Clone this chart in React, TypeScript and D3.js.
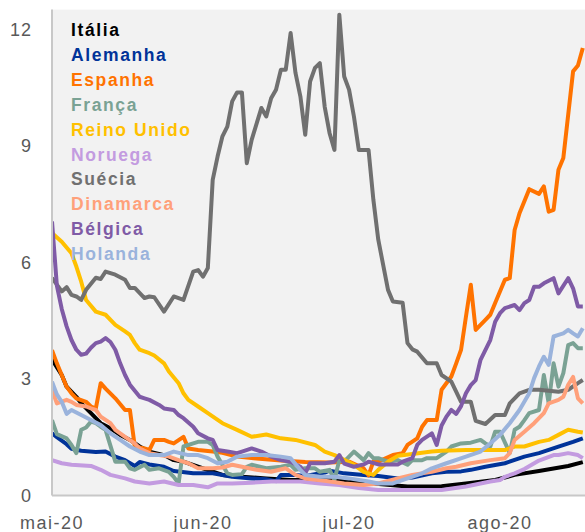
import React from "react";
import * as d3 from "d3";

// Day offsets counted from 1 May 2020; values are the plotted indicator.
type Pt = [number, number];

const italia: Pt[] = [[0,3.5],[2,3.1],[3,2.8],[5,2.54],[6,2.37],[8,2.12],[10,1.86],[12,1.73],[14,1.56],[16,1.43],[18,1.26],[20,1.13],[23,1.04],[25,0.91],[27,0.87],[30,0.74],[35,0.53],[39,0.48],[44,0.44],[49,0.4],[56,0.4],[61,0.36],[66,0.31],[73,0.23],[80,0.24],[85,0.31],[91,0.4],[95,0.53],[100,0.63],[106,0.76],[109,0.86]];
const alemanha: Pt[] = [[0,1.6],[1,1.5],[3,1.32],[4,1.2],[6,1.15],[9,1.12],[11,1.13],[13,1.0],[15,0.91],[17,0.76],[18,0.86],[20,0.8],[23,0.74],[25,0.63],[29,0.57],[33,0.57],[37,0.48],[41,0.44],[44,0.42],[46,0.37],[47,0.53],[50,0.53],[52,0.5],[56,0.59],[57,0.64],[60,0.57],[64,0.53],[67,0.5],[71,0.44],[74,0.46],[78,0.57],[81,0.61],[84,0.62],[86,0.66],[89,0.74],[93,0.83],[97,1.0],[100,1.09],[104,1.26],[107,1.38],[109,1.47]];
const espanha: Pt[] = [[0,3.74],[1,3.4],[2,3.1],[3,2.8],[4,2.63],[5,2.5],[7,2.41],[8,2.29],[9,2.24],[10,2.89],[11,2.75],[13,2.5],[15,2.2],[16,2.2],[17,1.26],[19,1.21],[20,1.17],[21,1.43],[23,1.43],[24,1.38],[25,1.34],[27,1.51],[28,1.21],[30,1.17],[33,1.13],[35,1.1],[38,1.0],[42,0.95],[47,0.9],[52,0.86],[57,0.85],[61,0.87],[64,0.7],[65,0.52],[66,0.88],[67,0.87],[70,1.04],[72,1.09],[73,1.3],[75,1.47],[76,1.77],[77,1.94],[79,1.94],[80,2.72],[82,3.06],[83,3.4],[84,3.75],[85,4.6],[86,5.42],[87,4.26],[89,4.52],[90,4.65],[91,4.95],[93,5.55],[94,5.59],[95,6.83],[96,7.26],[98,7.88],[100,7.76],[101,7.95],[102,7.3],[103,7.35],[104,8.38],[105,8.68],[107,10.91],[108,11.06],[109,11.51]];
const franca: Pt[] = [[0,1.94],[1,1.58],[3,1.47],[4,1.3],[5,1.09],[6,1.69],[7,1.75],[8,1.9],[9,1.86],[10,1.77],[11,1.69],[13,0.87],[15,0.87],[16,0.7],[17,0.66],[19,0.79],[20,0.66],[22,0.7],[24,0.61],[25,0.48],[26,0.31],[27,1.26],[29,1.34],[30,1.38],[32,1.38],[33,1.3],[34,1.0],[36,0.57],[37,0.53],[39,0.55],[40,0.74],[41,0.79],[44,0.7],[47,0.74],[49,0.79],[50,0.66],[52,0.7],[54,0.7],[55,0.61],[57,0.66],[58,0.4],[59,0.91],[60,0.87],[62,1.13],[64,0.91],[65,1.09],[66,0.96],[67,0.96],[69,0.87],[71,0.91],[73,0.79],[74,0.91],[76,0.91],[77,0.96],[79,0.96],[81,1.13],[82,1.26],[84,1.34],[86,1.36],[88,1.43],[89,1.34],[90,1.26],[91,1.64],[92,1.64],[94,1.09],[95,1.69],[96,1.77],[97,1.94],[98,2.12],[100,2.2],[101,3.1],[102,2.37],[103,3.4],[104,2.8],[105,3.15],[106,3.87],[107,3.92],[108,3.79],[109,3.79]];
const reinoUnido: Pt[] = [[0,6.75],[2,6.53],[4,6.23],[5,5.89],[6,5.5],[7,5.03],[9,4.73],[11,4.65],[13,4.39],[15,4.22],[16,4.13],[17,3.92],[18,3.75],[20,3.66],[21,3.6],[23,3.4],[24,3.19],[26,2.89],[27,2.63],[28,2.46],[30,2.29],[32,2.12],[35,1.86],[38,1.69],[41,1.51],[44,1.57],[47,1.47],[50,1.43],[54,1.3],[56,1.13],[58,1.04],[60,0.92],[62,0.79],[64,0.61],[66,0.53],[67,0.66],[69,0.87],[71,1.02],[74,1.07],[78,1.13],[80,1.15],[85,1.17],[91,1.17],[93,1.17],[95,1.26],[97,1.26],[100,1.38],[102,1.43],[104,1.56],[106,1.69],[108,1.64],[109,1.62]];
const noruega: Pt[] = [[0,0.91],[2,0.83],[4,0.79],[8,0.76],[10,0.66],[12,0.53],[15,0.44],[17,0.36],[20,0.31],[23,0.36],[26,0.27],[29,0.27],[32,0.21],[34,0.31],[37,0.31],[41,0.33],[45,0.36],[51,0.36],[55,0.31],[59,0.27],[63,0.19],[67,0.14],[80,0.14],[85,0.23],[90,0.36],[92,0.4],[93,0.48],[95,0.57],[97,0.68],[100,0.9],[103,1.04],[104,1.04],[106,1.09],[108,1.04],[109,0.96]];
const suecia: Pt[] = [[0,5.6],[2,5.25],[3,5.36],[4,5.16],[5,5.12],[6,5.03],[7,5.29],[9,5.6],[10,5.57],[11,5.76],[13,5.68],[15,5.55],[16,5.34],[17,5.34],[19,5.08],[20,5.12],[21,5.1],[23,4.73],[25,5.12],[27,5.03],[29,5.76],[30,5.8],[31,5.63],[32,5.85],[33,8.12],[34,8.72],[35,9.24],[36,9.49],[37,10.14],[38,10.37],[39,10.37],[40,8.55],[41,9.15],[43,9.97],[44,9.75],[45,10.22],[46,10.44],[47,10.95],[48,10.95],[49,11.9],[50,10.87],[51,10.27],[52,9.28],[53,10.65],[54,11.0],[55,11.12],[56,10.0],[57,9.32],[58,8.89],[59,12.37],[60,10.78],[61,10.44],[62,9.75],[63,8.89],[65,8.89],[66,7.6],[67,6.58],[69,5.29],[70,4.99],[72,4.96],[73,3.92],[74,3.76],[75,3.7],[77,3.4],[79,3.4],[80,3.1],[82,2.93],[84,2.41],[86,2.41],[87,1.92],[89,1.84],[91,2.07],[93,2.07],[94,2.37],[96,2.63],[98,2.72],[100,2.72],[104,2.67],[106,2.72],[108,2.89],[109,2.97]];
const dinamarca: Pt[] = [[0,2.72],[1,2.37],[3,2.46],[4,2.41],[5,2.33],[7,2.29],[8,2.24],[9,2.2],[10,2.03],[12,1.86],[13,1.69],[15,1.51],[17,1.34],[18,1.21],[20,1.09],[22,1.04],[24,1.0],[26,0.91],[28,0.83],[30,0.7],[33,0.7],[35,0.72],[37,0.79],[39,0.74],[42,0.66],[45,0.61],[48,0.7],[50,0.53],[52,0.44],[56,0.38],[60,0.31],[64,0.27],[67,0.31],[71,0.44],[74,0.53],[78,0.61],[81,0.7],[83,0.74],[86,0.83],[90,0.91],[93,0.96],[94,1.09],[95,1.43],[97,1.64],[99,1.86],[101,2.12],[102,2.37],[104,2.46],[105,2.54],[106,2.85],[107,3.05],[108,2.5],[109,2.37]];
const belgica: Pt[] = [[0,7.05],[1,5.4],[2,4.8],[3,4.35],[4,4.0],[5,3.75],[6,3.62],[7,3.65],[8,3.8],[9,3.92],[10,3.96],[11,4.05],[12,3.95],[13,3.75],[14,3.4],[15,3.1],[16,2.85],[18,2.54],[19,2.5],[20,2.46],[22,2.33],[23,2.24],[25,2.2],[26,2.07],[27,1.99],[29,1.77],[30,1.6],[32,1.47],[33,1.43],[34,1.17],[36,1.13],[38,1.09],[39,1.13],[41,1.21],[43,1.13],[45,1.0],[47,0.91],[49,0.87],[51,0.74],[52,0.57],[53,0.83],[56,0.83],[58,0.87],[59,1.04],[60,0.82],[62,0.74],[64,0.8],[65,0.87],[67,0.8],[71,0.8],[72,0.87],[74,0.96],[75,1.3],[76,1.43],[78,1.6],[79,1.3],[80,1.8],[81,2.03],[82,2.2],[83,2.1],[84,2.3],[85,2.63],[86,2.84],[87,2.97],[88,3.49],[90,4.0],[91,4.47],[92,4.69],[93,4.82],[95,4.9],[96,4.77],[97,4.95],[98,5.03],[99,5.37],[100,5.37],[101,5.46],[103,5.59],[104,5.2],[106,5.59],[107,5.33],[108,4.86],[109,4.86]];
const holanda: Pt[] = [[0,2.93],[1,2.6],[2,2.41],[3,2.1],[4,2.2],[6,2.07],[8,1.94],[10,1.81],[12,1.6],[14,1.43],[16,1.26],[18,1.13],[20,1.04],[23,1.04],[25,1.13],[28,1.04],[30,1.04],[32,0.96],[34,0.83],[36,0.87],[38,1.0],[41,1.04],[44,1.04],[47,1.0],[49,0.96],[51,0.66],[52,0.53],[55,0.48],[58,0.48],[61,0.44],[65,0.36],[67,0.31],[70,0.31],[73,0.44],[76,0.57],[78,0.7],[81,0.83],[85,1.0],[88,1.13],[90,1.34],[92,1.56],[94,1.86],[96,2.2],[98,2.63],[99,3.02],[100,3.32],[101,3.57],[102,3.36],[103,4.09],[104,4.13],[105,4.17],[106,4.26],[107,4.17],[108,4.09],[109,4.3]];

const seriesNames = ["Itália","Alemanha","Espanha","França","Reino Unido","Noruega","Suécia","Dinamarca","Bélgica","Holanda"];
const seriesData = [italia, alemanha, espanha, franca, reinoUnido, noruega, suecia, dinamarca, belgica, holanda];
const seriesColors = ["#000000","#003399","#ff7300","#7aa294","#ffc000","#c39be0","#707070","#ffa07a","#7f5ba6","#9ab3dc"];

const yTicks = [0, 3, 6, 9, 12];
const xTickDays = [0, 31, 61, 92];
const xTickLabels = ["mai-20", "jun-20", "jul-20", "ago-20"];

const W = 585, H = 532;
const left = 52, right = 585, top = 9.6, bottom = 495.5;

export default function App() {
  const x = d3.scaleLinear().domain([0, 109.45]).range([left, right]);
  const y = d3.scaleLinear().domain([0, 12.5]).range([bottom, top]);
  const line = d3.line<Pt>().x(d => x(d[0])).y(d => y(d[1]));
  const font = "'Liberation Sans', Arial, sans-serif";
  return (
    <svg width={W} height={H} style={{ position: "absolute", left: 0, top: 0 }} fontFamily={font}>
      <rect x={left} y={top} width={right - left} height={bottom - top} fill="#f2f2f2" />
      <defs>
        <clipPath id="plot"><rect x={left} y={0} width={right - left} height={bottom} /></clipPath>
      </defs>
      <g clipPath="url(#plot)">
        {seriesData.map((s, i) => (
          <path key={i} d={line(s) || ""} fill="none" stroke={seriesColors[i]} strokeWidth={4} strokeLinejoin="round" strokeLinecap="butt" />
        ))}
      </g>
      <line x1={left} x2={left} y1={top} y2={bottom} stroke="#c8c8c8" strokeWidth={2} />
      <line x1={left} x2={right} y1={bottom} y2={bottom} stroke="#c8c8c8" strokeWidth={2} />
      {yTicks.map(t => (
        <text key={t} x={32} y={y(t)} dy="0.36em" textAnchor="end" fontSize={18} fill="#595959" letterSpacing={1}>{t}</text>
      ))}
      {xTickDays.map((d, i) => (
        <text key={d} x={x(d)} y={529} textAnchor="middle" fontSize={18} fill="#595959" letterSpacing={1.5}>{xTickLabels[i]}</text>
      ))}
      {seriesNames.map((n, i) => (
        <text key={n} x={71} y={36 + i * 24.9} fontSize={17.5} fontWeight="bold" fill={seriesColors[i]} letterSpacing={1.6}>{n}</text>
      ))}
    </svg>
  );
}
